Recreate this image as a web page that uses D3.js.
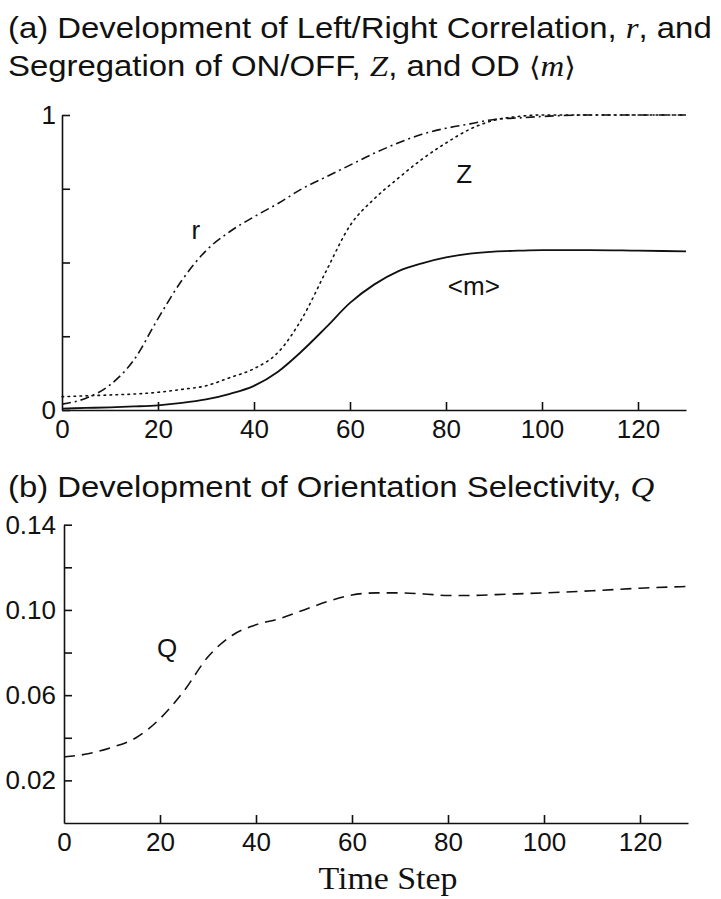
<!DOCTYPE html>
<html>
<head>
<meta charset="utf-8">
<script src="https://cdn.jsdelivr.net/npm/d3@7"></script>
<style>
  html, body { margin: 0; padding: 0; background: #fff; }
  svg { display: block; }
  .tick text { font-family: "Liberation Sans", Arial, sans-serif; font-size: 26px; fill: #111; }
  .domain, .tick line { stroke: #111; stroke-width: 1.6px; }
</style>
</head>
<body>
<svg id="chart" width="721" height="899"></svg>
<script>
// ---------- data ----------
const timeSteps = [0, 5, 10, 15, 20, 25, 30, 35, 40, 45, 50, 55, 60, 65, 70, 75, 80, 85, 90, 95, 100, 110, 120, 130];
const rValues = [0.02, 0.04, 0.085, 0.17, 0.31, 0.44, 0.54, 0.605, 0.655, 0.70, 0.75, 0.79, 0.83, 0.87, 0.905, 0.935, 0.955, 0.97, 0.985, 0.99, 0.995, 1.0, 1.0, 1.0];
const zValues = [0.045, 0.048, 0.051, 0.054, 0.06, 0.07, 0.082, 0.11, 0.14, 0.195, 0.31, 0.47, 0.625, 0.715, 0.785, 0.85, 0.905, 0.952, 0.982, 0.995, 1.0, 1.0, 1.0, 1.0];
const mValues = [0.005, 0.007, 0.009, 0.012, 0.016, 0.024, 0.036, 0.055, 0.082, 0.13, 0.20, 0.28, 0.363, 0.425, 0.47, 0.497, 0.517, 0.53, 0.537, 0.54, 0.542, 0.542, 0.54, 0.538];
const qTimeSteps = [0, 5, 10, 15, 20, 25, 30, 35, 40, 45, 50, 55, 60, 65, 70, 75, 80, 85, 90, 100, 110, 120, 130];
const qValues = [0.031, 0.0325, 0.0355, 0.040, 0.049, 0.062, 0.078, 0.088, 0.093, 0.096, 0.100, 0.104, 0.107, 0.108, 0.108, 0.1075, 0.1068, 0.1068, 0.1072, 0.108, 0.109, 0.1102, 0.111];

const xTicks = [0, 20, 40, 60, 80, 100, 120];
const yTicksA = [0, 0.25, 0.5, 0.75, 1];
const yTickLabelsA = {0: "0", 1: "1"};
const yTicksB = [0.02, 0.04, 0.06, 0.08, 0.10, 0.12, 0.14];
const yTickLabelsB = ["0.02", "0.06", "0.10", "0.14"];

const titleA1 = ["(a) Development of Left/Right Correlation, ", "r", ", and"];
const titleA2 = ["Segregation of ON/OFF, ", "Z", ", and OD ", "m"];
const titleB = ["(b) Development of Orientation Selectivity, ", "Q"];
const xLabel = "Time Step";

// ---------- drawing ----------
const svg = d3.select("#chart");
const ink = "#111";

const xA = d3.scaleLinear().domain([0, 130]).range([62, 686]);
const yA = d3.scaleLinear().domain([0, 1]).range([410, 115]);
const xB = d3.scaleLinear().domain([0, 130]).range([64, 688]);
const yB = d3.scaleLinear().domain([0, 0.14]).range([823, 524.7]);

function drawAxes(x, y, yTicks, yFmt, xPad, yPad) {
  const gx = svg.append("g").attr("transform", `translate(0,${y.range()[0]})`)
    .call(d3.axisBottom(x).tickValues(xTicks).tickSizeInner(-8).tickSizeOuter(0).tickPadding(xPad).tickFormat(d3.format("d")));
  const gy = svg.append("g").attr("transform", `translate(${x.range()[0]},0)`)
    .call(d3.axisLeft(y).tickValues(yTicks).tickSizeInner(-8).tickSizeOuter(0).tickPadding(yPad).tickFormat(yFmt));
  gx.selectAll(".tick").filter(d => d === 0).select("line").remove();
  return [gx, gy];
}

drawAxes(xA, yA, yTicksA, d => yTickLabelsA[d] || "", 10, 6);
drawAxes(xB, yB, yTicksB, d => { const s = d.toFixed(2); return yTickLabelsB.includes(s) ? s : ""; }, 10, 8);

const lineA = (vals) => d3.line().x((d, i) => xA(timeSteps[i])).y(d => yA(d)).curve(d3.curveMonotoneX)(vals);

svg.append("path").attr("d", lineA(rValues)).attr("fill", "none").attr("stroke", ink)
  .attr("stroke-width", 1.6).attr("stroke-dasharray", "9,4,2,4");
svg.append("path").attr("d", lineA(zValues)).attr("fill", "none").attr("stroke", ink)
  .attr("stroke-width", 1.6).attr("stroke-dasharray", "1.6,4.4").attr("stroke-linecap", "round");
svg.append("path").attr("d", lineA(mValues)).attr("fill", "none").attr("stroke", ink)
  .attr("stroke-width", 1.8);

const lineB = d3.line().x((d, i) => xB(qTimeSteps[i])).y(d => yB(d)).curve(d3.curveMonotoneX);
svg.append("path").attr("d", lineB(qValues)).attr("fill", "none").attr("stroke", ink)
  .attr("stroke-width", 1.6).attr("stroke-dasharray", "11,7");

// curve labels
const lab = (x, y, t) => svg.append("text").attr("x", x).attr("y", y).attr("text-anchor", "middle")
  .attr("font-family", "Liberation Sans, Arial, sans-serif").attr("font-size", 26).attr("fill", ink).text(t);
lab(xA(27.9), yA(0.58), "r");
lab(xA(83.8), yA(0.77), "Z");
lab(xA(85.8), yA(0.39), "<m>");
lab(xB(21.5), yB(0.078), "Q");

// titles
const sansF = "Liberation Sans, Arial, sans-serif";
const serifF = "Liberation Serif, Times New Roman, serif";
function title(parts, x, y, mathIdx, brackets) {
  const t = svg.append("text").attr("x", x).attr("y", y).attr("font-size", 30).attr("fill", ink)
    .attr("font-family", sansF);
  parts.forEach((p, i) => {
    if (mathIdx.includes(i)) {
      if (brackets && i === parts.length - 1) {
        t.append("tspan").attr("font-family", "DejaVu Serif, serif").attr("font-size", 27).text("\u27E8");
        t.append("tspan").attr("font-family", serifF).attr("font-style", "italic").text(p);
        t.append("tspan").attr("font-family", "DejaVu Serif, serif").attr("font-size", 27).text("\u27E9");
      } else {
        t.append("tspan").attr("font-family", serifF).attr("font-style", "italic").text(p);
      }
    } else {
      t.append("tspan").text(p);
    }
  });
  return t;
}
const t1 = title(titleA1, 8, 38, [1], false);
const t2 = title(titleA2, 8, 76, [1, 3], true);
const t3 = title(titleB, 8, 497, [1], false);
const sx = 704 / t1.node().getBBox().width;
[t1, t2, t3].forEach(t => t.attr("transform", `translate(8,0) scale(${sx},1) translate(-8,0)`));

svg.append("text").attr("x", 388).attr("y", 889).attr("text-anchor", "middle")
  .attr("font-family", serifF).attr("font-size", 31).attr("fill", ink)
  .attr("textLength", 139).attr("lengthAdjust", "spacingAndGlyphs").text(xLabel);
</script>
</body>
</html>
